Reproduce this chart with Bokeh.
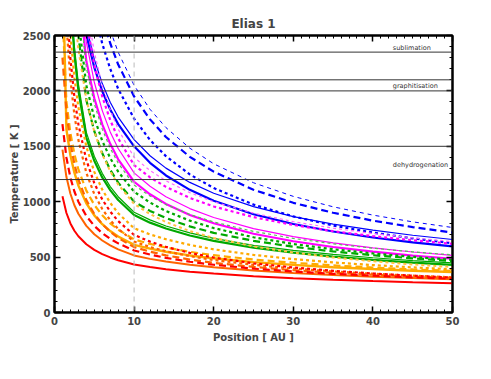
from bokeh.plotting import figure
from bokeh.models import (Range1d, LinearAxis, SingleIntervalTicker, Span, Label,
                          CustomLabelingPolicy)
from bokeh.embed import file_html
from bokeh.resources import INLINE

# ---------------- data ----------------
position_au = [1, 1.5, 2, 2.5, 3, 4, 5, 6, 7, 8, 10, 12, 14, 17, 20, 25, 30, 35, 40, 45, 50]

red_solid   = [1050, 898, 804, 738, 688, 616, 565, 527, 497, 472, 433, 410, 391, 368, 351, 327, 310, 295, 284, 274, 265]
red_dashed  = [1700, 1397, 1216, 1092, 1000, 871, 782, 716, 665, 624, 560, 523, 493, 458, 431, 396, 370, 349, 332, 317, 305]
red_dotted  = [3820, 2833, 2292, 1945, 1700, 1375, 1167, 1020, 911, 825, 700, 640, 592, 538, 496, 444, 406, 376, 352, 332, 315]

ored_solid  = [1470, 1222, 1072, 968, 891, 782, 706, 650, 606, 570, 515, 484, 460, 431, 408, 379, 356, 338, 323, 311, 300]
ored_dashed = [2300, 1810, 1527, 1339, 1202, 1014, 889, 798, 728, 673, 590, 549, 516, 478, 448, 411, 382, 359, 341, 325, 312]
ored_dotted = [3509, 2600, 2102, 1783, 1558, 1260, 1068, 934, 833, 755, 640, 591, 553, 508, 474, 430, 397, 371, 350, 333, 318]

orng_solid  = [3200, 1650, 1419, 1262, 1147, 986, 877, 797, 735, 686, 610, 576, 548, 515, 489, 455, 430, 409, 392, 377, 365]
orng_dashed = [2700, 1900, 1619, 1429, 1291, 1100, 971, 877, 805, 747, 660, 619, 586, 548, 517, 478, 449, 425, 406, 389, 375]
orng_dotted = [4175, 3093, 2500, 2119, 1852, 1497, 1269, 1109, 990, 896, 760, 705, 661, 610, 570, 520, 482, 452, 428, 407, 390]
orng_dot2   = [5332, 3957, 3203, 2718, 2376, 1923, 1632, 1427, 1274, 1155, 980, 888, 817, 735, 673, 597, 541, 497, 463, 434, 410]

grn_solid   = [4983, 3561, 2805, 2331, 2004, 1579, 1369, 1219, 1105, 1015, 880, 811, 758, 695, 646, 585, 540, 504, 475, 451, 430]
grn_thin    = [5130, 3668, 2889, 2397, 2064, 1626, 1410, 1256, 1136, 1045, 905, 836, 781, 718, 669, 606, 560, 524, 494, 469, 448]
grn_dashed  = [6892, 4741, 3635, 2958, 2500, 1917, 1636, 1437, 1288, 1172, 1000, 917, 852, 777, 719, 647, 593, 551, 517, 489, 465]
grn_dotted  = [7078, 4925, 3807, 3118, 2649, 2048, 1756, 1549, 1393, 1271, 1090, 992, 916, 829, 762, 679, 618, 571, 533, 502, 475]
grn_dash2   = [7977, 5479, 4197, 3414, 2884, 2209, 1884, 1655, 1483, 1348, 1150, 1051, 974, 885, 817, 732, 669, 620, 580, 548, 520]

mag_solid   = [8191, 5625, 4309, 3504, 2960, 2267, 1934, 1698, 1522, 1383, 1180, 1067, 980, 880, 805, 711, 643, 591, 549, 514, 485]
mag_thin    = [8970, 6131, 4680, 3796, 3199, 2442, 2078, 1822, 1630, 1480, 1260, 1139, 1045, 938, 857, 757, 684, 628, 583, 546, 515]
mag_dotted  = [10126, 6833, 5170, 4163, 3489, 2639, 2233, 1949, 1737, 1571, 1330, 1220, 1134, 1034, 957, 861, 790, 734, 689, 652, 620]
mag_dash2   = [10648, 7184, 5436, 4378, 3669, 2775, 2349, 2050, 1827, 1654, 1400, 1281, 1189, 1082, 999, 897, 820, 761, 713, 674, 640]

blu_solid   = [5445, 4340, 3693, 3260, 2944, 2506, 2211, 1997, 1832, 1700, 1500, 1351, 1237, 1107, 1008, 887, 799, 731, 677, 633, 596]
blu_thin    = [5535, 4429, 3781, 3344, 3025, 2582, 2284, 2066, 1898, 1764, 1560, 1415, 1303, 1174, 1076, 955, 866, 798, 743, 697, 659]
blu_dotted  = [7634, 5890, 4899, 4248, 3780, 3145, 2727, 2426, 2199, 2018, 1750, 1557, 1411, 1246, 1123, 974, 867, 785, 721, 669, 625]
blu_dashed  = [8079, 6290, 5266, 4589, 4100, 3433, 2991, 2673, 2430, 2238, 1950, 1743, 1584, 1405, 1271, 1108, 990, 900, 829, 771, 722]
blu_dash2   = [8368, 6533, 5480, 4781, 4277, 3588, 3131, 2801, 2549, 2349, 2050, 1834, 1669, 1483, 1342, 1171, 1048, 954, 879, 818, 767]

threshold_temps = [2350, 2100, 2000, 1500, 1200]
process_names = ["sublimation", "graphitisation", "dehydrogenation"]
process_label_temps = [2385, 2045, 1330]
inner_marker_au = 10

# ---------------- styles ----------------
RED, ORED, ORNG, GRN, MAG, BLU = "#FF0000", "#FF6400", "#FFAA00", "#00A800", "#FF00FF", "#0000FF"
curves = [
    (blu_dash2, BLU, "4 4", 1.0), (blu_dashed, BLU, "7 4", 2.2), (blu_dotted, BLU, "3 3", 2.2),
    (blu_thin, BLU, "solid", 1.2), (blu_solid, BLU, "solid", 2.2),
    (mag_dash2, "#FF66FF", "3 3", 1.2), (mag_dotted, MAG, "3 3", 2.2),
    (mag_thin, MAG, "solid", 1.2), (mag_solid, MAG, "solid", 2.2),
    (grn_dash2, "#55C055", "3 3", 1.2), (grn_dotted, GRN, "3 3", 2.2), (grn_dashed, GRN, "7 4", 2.2),
    (grn_thin, GRN, "solid", 1.2), (grn_solid, GRN, "solid", 2.2),
    (orng_dot2, "#FFC040", "3 3", 2.0), (orng_dotted, ORNG, "3 3", 2.2), (orng_dashed, ORNG, "7 4", 2.2),
    (orng_solid, ORNG, "solid", 2.4),
    (ored_dotted, ORED, "3 3", 2.2), (ored_dashed, ORED, "7 4", 2.2), (ored_solid, ORED, "solid", 2.0),
    (red_dotted, RED, "3 3", 2.2), (red_dashed, RED, "7 4", 2.2), (red_solid, RED, "solid", 2.0),
]

FONT = "DejaVu Sans"

p = figure(width=475, height=363, output_backend="svg", toolbar_location=None,
           x_range=Range1d(0, 50), y_range=Range1d(0, 2500),
           min_border_left=54, min_border_right=23, min_border_top=35, min_border_bottom=51,
           title="Elias 1", x_axis_location=None, y_axis_location=None)
p.grid.visible = False
p.outline_line_color = "black"
p.outline_line_width = 2
p.title.align = "center"
p.title.text_font = FONT
p.title.text_font_size = "12px"
p.title.text_font_style = "bold"
p.title.offset = 0
p.title.standoff = 2

for ys, c, dash, w in curves:
    p.line(position_au, ys, line_color=c, line_dash=dash, line_width=w)

for t in threshold_temps:
    p.add_layout(Span(location=t, dimension="width", line_color="#333333", line_width=1))
p.add_layout(Span(location=inner_marker_au, dimension="height", line_color="#BBBBBB",
                  line_dash="5 4", line_width=1))
for name, t in zip(process_names, process_label_temps):
    p.add_layout(Label(x=42.5, y=t, text=name, text_font=FONT, text_font_size="6.5px",
                       text_color="#333333", text_baseline="middle"))

hide_all = CustomLabelingPolicy(code="for (const i of Array.from(indices)) { indices.unset(i) }; return indices")

def style_axis(ax, labels=True):
    ax.axis_line_width = 2
    ax.major_tick_in = 6
    ax.major_tick_out = 0
    ax.minor_tick_in = 3
    ax.minor_tick_out = 0
    ax.major_tick_line_width = 1.5
    ax.minor_tick_line_width = 1
    ax.major_label_text_font = FONT
    ax.major_label_text_font_style = "bold"
    ax.axis_label_text_font = FONT
    ax.axis_label_text_font_style = "bold"
    ax.axis_label_text_font_size = "10px"
    if labels:
        ax.major_label_text_font_size = "10px"
        ax.major_label_standoff = 4
    else:
        ax.major_label_text_font_size = "1px"
        ax.major_label_standoff = 0
        ax.major_label_policy = hide_all

xb = LinearAxis(ticker=SingleIntervalTicker(interval=10, num_minor_ticks=10),
                axis_label="Position [ AU ]", axis_label_standoff=4)
yl = LinearAxis(ticker=SingleIntervalTicker(interval=500, num_minor_ticks=5),
                axis_label="Temperature [ K ]", axis_label_standoff=0)
xt = LinearAxis(ticker=SingleIntervalTicker(interval=10, num_minor_ticks=10))
yr = LinearAxis(ticker=SingleIntervalTicker(interval=500, num_minor_ticks=5))
style_axis(xb); style_axis(yl); style_axis(xt, False); style_axis(yr, False)
p.add_layout(xb, "below")
p.add_layout(yl, "left")
p.add_layout(xt, "above")
p.add_layout(yr, "right")

open("out.html", "w").write(file_html(p, INLINE))
